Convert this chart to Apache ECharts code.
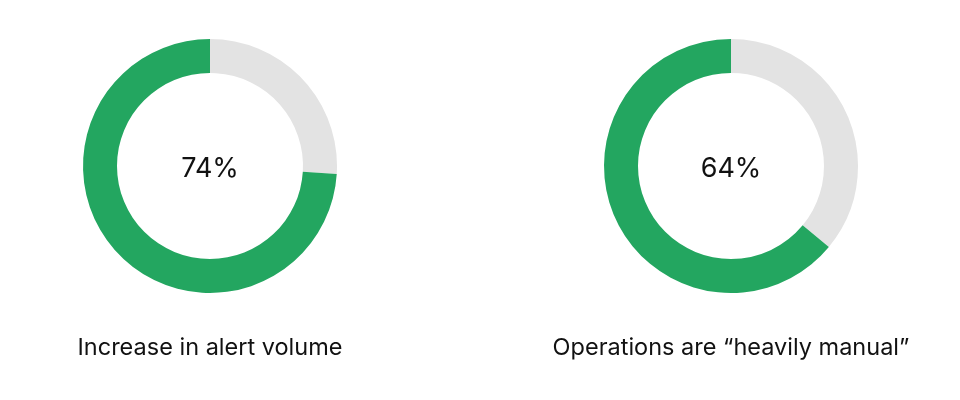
<!DOCTYPE html>
<html>
<head>
<meta charset="utf-8">
<script src="https://cdn.jsdelivr.net/npm/echarts@6/dist/echarts.min.js"></script>
<style>
  html, body { margin: 0; padding: 0; background: #fff; }
  #chart { width: 960px; height: 400px; }
</style>
</head>
<body>
<div id="chart"></div>
<script>
    // donut values (percent)
    var captions = ['Increase in alert volume', 'Operations are \u201Cheavily manual\u201D'];
    var percents = [74, 64];
    var centersX = [210, 731];

    var myChart = echarts.init(document.getElementById('chart'));

    var series = [];
    var titles = [];
    for (var i = 0; i < percents.length; i++) {
        series.push({
            type: 'pie',
            radius: [93, 127],
            center: [centersX[i], 166],
            startAngle: 90,
            clockwise: true,
            silent: true,
            label: { show: false },
            labelLine: { show: false },
            data: [
                { value: 100 - percents[i], name: 'rest', itemStyle: { color: '#e3e3e3' } },
                { value: percents[i], name: 'share', itemStyle: { color: '#23a660' } }
            ]
        });
        titles.push({
            text: percents[i] + '%',
            left: centersX[i],
            top: 155,
            padding: 0,
            textAlign: 'center',
            textStyle: { fontFamily: 'Inter', fontSize: 27, fontWeight: 'normal', color: '#111' }
        });
        titles.push({
            text: captions[i],
            left: centersX[i],
            top: 336,
            padding: 0,
            textAlign: 'center',
            textStyle: { fontFamily: 'Inter', fontSize: 23.5, fontWeight: 'normal', color: '#111' }
        });
    }

    var option = {
        animation: false,
        title: titles,
        series: series
    };
    myChart.setOption(option);
</script>
</body>
</html>
